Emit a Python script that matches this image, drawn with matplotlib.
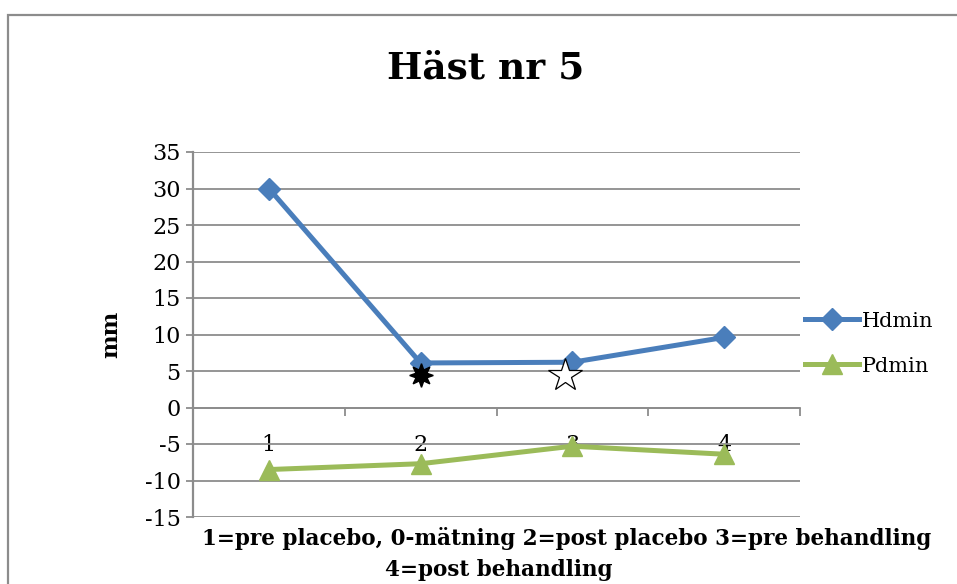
import matplotlib.pyplot as plt
from matplotlib.patches import Rectangle

# data
categories = [1, 2, 3, 4]
cat_labels = ["1", "2", "3", "4"]
hdmin = [30, 6.1, 6.2, 9.6]
pdmin = [-8.5, -7.7, -5.3, -6.4]
yticks = [-15, -10, -5, 0, 5, 10, 15, 20, 25, 30, 35]

# star annotations
star_black = (2.0, 4.5)
star_white = (2.95, 4.5)

plt.rcParams["font.family"] = ["DejaVu Serif"]
plt.rcParams["axes.unicode_minus"] = False

BLUE = "#4a7ebb"
GREEN = "#9bbb59"
GRAY = "#8c8c8c"

fig = plt.figure(figsize=(9.57, 5.84), dpi=100)
fig.patches.append(Rectangle((8 / 957, -0.05), 1.0, 0.974 + 0.05,
                             transform=fig.transFigure, fill=False,
                             edgecolor=GRAY, linewidth=1.6))

ax = fig.add_axes([193 / 957, 1 - 517 / 584, (800 - 193) / 957, (517 - 152) / 584])

ax.plot(categories, hdmin, color=BLUE, lw=3.6, marker="D", ms=11.5,
        label="Hdmin", zorder=4)
ax.plot(categories, pdmin, color=GREEN, lw=3.6, marker="^", ms=14,
        label="Pdmin", zorder=4)

ax.plot(*star_black, marker=(8, 1, 0), ms=17, color="black", zorder=5)
ax.plot(*star_white, marker="*", ms=25, markerfacecolor="white",
        markeredgecolor="black", markeredgewidth=0.9, zorder=5)

ax.set_xlim(0.5, 4.5)
ax.set_ylim(-15, 35)
ax.set_yticks(yticks)
ax.yaxis.grid(True, color=GRAY, lw=1.3)
ax.set_axisbelow(True)

ax.spines["top"].set_visible(False)
ax.spines["right"].set_visible(False)
ax.spines["left"].set_color(GRAY)
ax.spines["left"].set_linewidth(1.6)
ax.spines["bottom"].set_position(("data", 0))
ax.spines["bottom"].set_color(GRAY)
ax.spines["bottom"].set_linewidth(1.3)

ax.set_xticks(categories)
ax.set_xticklabels(cat_labels)
ax.set_xticks([0.5, 1.5, 2.5, 3.5, 4.5], minor=True)
ax.tick_params(axis="x", which="major", length=0, pad=19, labelsize=16)
ax.tick_params(axis="x", which="minor", length=6, width=1.3, color=GRAY)
ax.tick_params(axis="y", length=5, width=1.3, color=GRAY, labelsize=16, pad=4)

ax.set_ylabel("mm", fontsize=16, fontweight="bold", labelpad=16)

fig.text(0.508, 1 - 68 / 584, "Häst nr 5", ha="center", va="center",
         fontsize=27, fontweight="bold")
fig.text(567 / 957, 1 - 538 / 584,
         "1=pre placebo, 0-mätning 2=post placebo 3=pre behandling",
         ha="center", va="center", fontsize=15.5, fontweight="bold")
fig.text(499 / 957, 1 - 570 / 584, "4=post behandling",
         ha="center", va="center", fontsize=15.5, fontweight="bold")

ax.legend(loc="center left", bbox_to_anchor=(0.995, 0.475), frameon=False,
          borderaxespad=0, fontsize=15, handlelength=2.6, labelspacing=1.25,
          handletextpad=0.1)

fig.savefig("out.png", dpi=100)
